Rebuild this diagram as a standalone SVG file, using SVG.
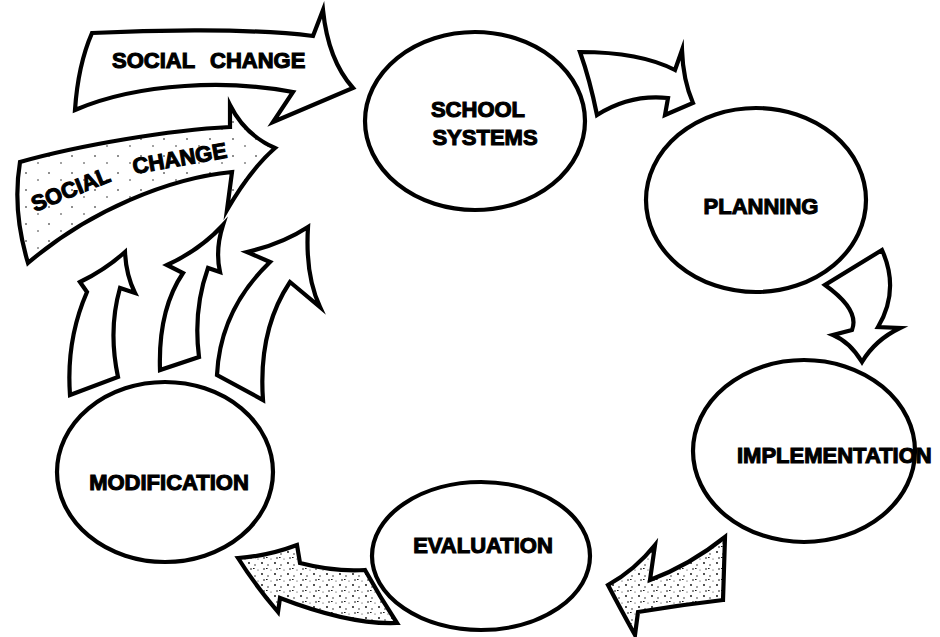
<svg xmlns="http://www.w3.org/2000/svg" width="940" height="637" viewBox="0 0 940 637">
<defs>
<pattern id="stipLight" width="23" height="17" patternUnits="userSpaceOnUse">
<circle cx="3" cy="3" r="0.8" fill="#000"/>
<circle cx="15" cy="10" r="0.7" fill="#000"/>
</pattern>
<pattern id="stipDense" width="13" height="11" patternUnits="userSpaceOnUse">
<circle cx="2" cy="2" r="0.9" fill="#000"/>
<circle cx="8" cy="4" r="0.7" fill="#000"/>
<circle cx="4" cy="8" r="0.8" fill="#000"/>
<circle cx="11" cy="9" r="0.5" fill="#000"/>
<rect x="6" y="7" width="1.6" height="0.9" fill="#000"/>
</pattern>
<style>
.node{fill:#fff;stroke:#000;stroke-width:4.2}
.arr{fill:#fff;stroke:#000;stroke-width:4.2;stroke-linejoin:miter;stroke-miterlimit:8}
.lt{fill:url(#stipLight);stroke:#000;stroke-width:4.2;stroke-linejoin:miter;stroke-miterlimit:8}
.dn{fill:url(#stipDense);stroke:#000;stroke-width:4.2;stroke-linejoin:miter;stroke-miterlimit:8}
.lbl{font-family:"Liberation Sans",Arial,sans-serif;font-weight:700;font-size:22px;fill:#000;stroke:#000;stroke-width:1.1}
</style>
</defs>
<rect width="940" height="637" fill="#fff"/>

<g id="connectors">
<g id="social-change-1">
<path class="arr" d="M92,33 C150,30 250,28 313,36 L323,10 Q328,60 353,88 L273,122 L293,92 C230,80 140,82 75,110 Q78,65 92,33 Z"/>
<text class="lbl" y="68"><tspan x="112">SOCIAL</tspan><tspan x="210">CHANGE</tspan></text>
</g>
<g id="social-change-2">
<path class="lt" d="M20,162 C80,145 170,130 230,127 L230,105 Q245,135 275,148 Q250,170 227,210 L232,172 C170,178 90,210 28,263 Q12,210 20,162 Z"/>
<text class="lbl" transform="translate(35,212) rotate(-22)">SOCIAL</text>
<text class="lbl" transform="translate(134,174) rotate(-10)">CHANGE</text>
</g>
<g id="up-arrows">
<path class="arr" d="M70,395 Q66,340 87,292 L80,282 Q105,270 125,252 Q126,275 135,293 L120,288 Q108,330 118,377 Z"/>
<path class="arr" d="M160,370 Q158,310 183,273 L167,265 Q200,250 223,225 Q215,250 220,272 L208,268 Q193,310 199,357 Z"/>
<path class="arr" d="M217,375 Q220,310 270,262 L247,252 Q282,244 308,227 Q305,275 320,307 L290,282 Q258,330 263,400 Z"/>
</g>
<path id="school-to-planning" class="arr" d="M580,52 Q640,52 675,70 L682,50 Q683,80 693,103 L665,115 L668,98 Q630,94 597,115 Q590,80 580,52 Z"/>
<path id="planning-to-implementation" class="arr" d="M882,250 L825,285 Q860,310 852,330 L833,335 Q850,342 862,362 Q875,340 900,328 L878,327 Q900,290 882,250 Z"/>
<path id="implementation-to-evaluation" class="dn" d="M725,537 L723,600 Q680,605 638,612 L635,635 Q620,608 608,585 Q635,570 655,545 L650,580 Q690,565 725,537 Z"/>
<path id="evaluation-to-modification" class="dn" d="M238,558 Q268,556 297,545 L300,563 Q335,572 365,570 Q380,597 397,623 Q350,625 280,598 L278,612 Q255,585 238,558 Z"/>
</g>

<g id="node-school-systems">
<ellipse class="node" cx="475" cy="121" rx="110" ry="89"/>
<text class="lbl" x="478" y="117" text-anchor="middle">SCHOOL</text>
<text class="lbl" x="485" y="145" text-anchor="middle">SYSTEMS</text>
</g>
<g id="node-planning">
<ellipse class="node" cx="756" cy="200" rx="110" ry="92"/>
<text class="lbl" x="761" y="214" text-anchor="middle">PLANNING</text>
</g>
<g id="node-implementation">
<ellipse class="node" cx="804" cy="451" rx="111" ry="91"/>
<text class="lbl" x="737" y="463">IMPLEMENTATION</text>
</g>
<g id="node-evaluation">
<ellipse class="node" cx="481" cy="556" rx="109" ry="74"/>
<text class="lbl" x="483" y="553" text-anchor="middle">EVALUATION</text>
</g>
<g id="node-modification">
<ellipse class="node" cx="165" cy="472" rx="108" ry="90"/>
<text class="lbl" x="169" y="490" text-anchor="middle">MODIFICATION</text>
</g>
</svg>
